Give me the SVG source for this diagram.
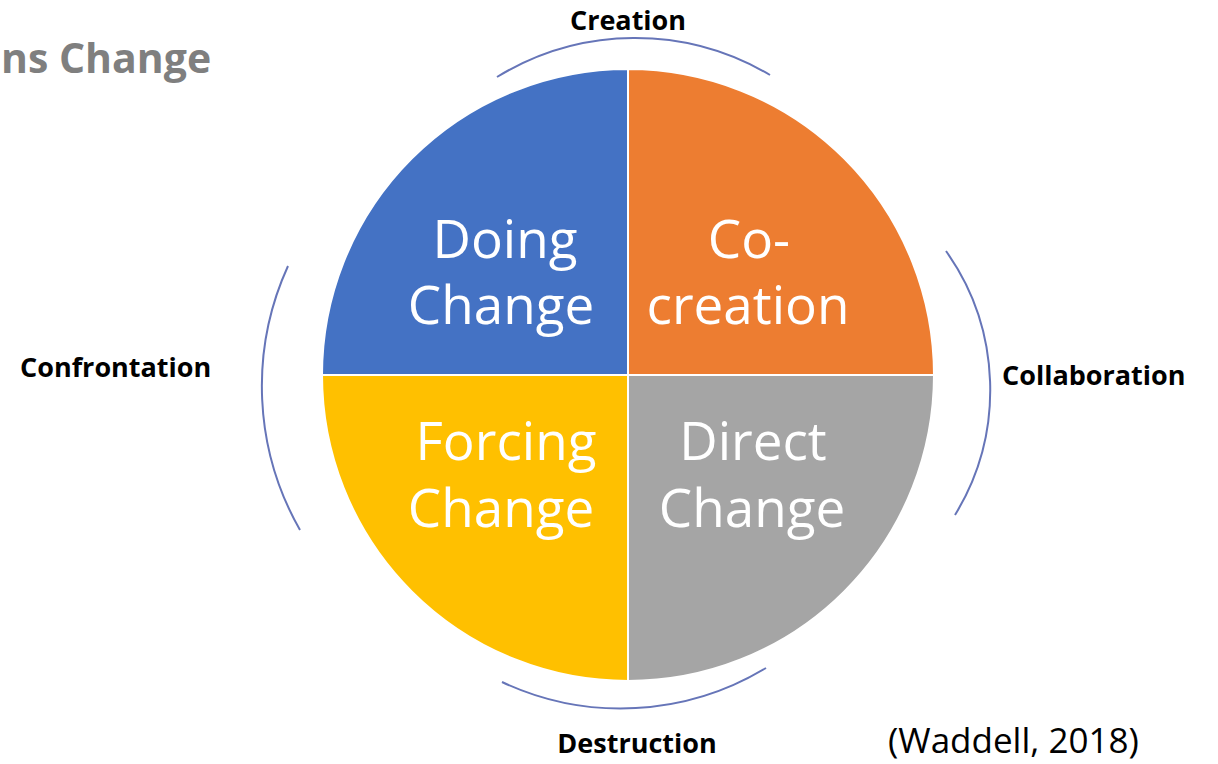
<svg xmlns="http://www.w3.org/2000/svg" width="1218" height="764" viewBox="0 0 1218 764">
<style>
.q{stroke:#ffffff;stroke-width:2}
.qt{font-family:"Open Sans","Liberation Sans",sans-serif;font-size:53px;fill:#ffffff;text-anchor:middle}
.lbl{font-family:"Open Sans","Liberation Sans",sans-serif;font-weight:bold;font-size:27px;fill:#000000}
.arc{fill:none;stroke:#6675b8;stroke-width:2}
</style>
<rect width="1218" height="764" fill="#ffffff"/>
<text x="1" y="73" style="font-family:'Open Sans','Liberation Sans',sans-serif;font-weight:bold;font-size:41px;fill:#7f7f7f">ns Change</text>
<g id="doing-change">
<path class="q" d="M628,375 L322,375 A306,306 0 0 1 628,69 Z" fill="#4472C4"/>
<text class="qt" x="505" y="258">Doing</text>
<text class="qt" x="501" y="324">Change</text>
</g>
<g id="co-creation">
<path class="q" d="M628,375 L628,69 A306,306 0 0 1 934,375 Z" fill="#ED7D31"/>
<text class="qt" x="749" y="258">Co-</text>
<text class="qt" x="748" y="324">creation</text>
</g>
<g id="forcing-change">
<path class="q" d="M628,375 L628,681 A306,306 0 0 1 322,375 Z" fill="#FFC000"/>
<text class="qt" x="506" y="460">Forcing</text>
<text class="qt" x="501" y="527">Change</text>
</g>
<g id="direct-change">
<path class="q" d="M628,375 L934,375 A306,306 0 0 1 628,681 Z" fill="#A5A5A5"/>
<text class="qt" x="753" y="460">Direct</text>
<text class="qt" x="752" y="527">Change</text>
</g>
<g id="connectors">
<path class="arc" d="M497,77 A264,264 0 0 1 770,75"/>
<path class="arc" d="M946,251 A240,240 0 0 1 955,515"/>
<path class="arc" d="M502,682 A280,280 0 0 0 766,668"/>
<path class="arc" d="M288,266 A290,290 0 0 0 300,530"/>
</g>
<g id="labels">
<text class="lbl" x="628" y="30" text-anchor="middle">Creation</text>
<text class="lbl" x="1002" y="385">Collaboration</text>
<text class="lbl" x="637" y="753" text-anchor="middle">Destruction</text>
<text class="lbl" x="20" y="377">Confrontation</text>
</g>
<text x="888" y="753" style="font-family:'Open Sans','Liberation Sans',sans-serif;font-size:35px;fill:#000000">(Waddell, 2018)</text>
</svg>
